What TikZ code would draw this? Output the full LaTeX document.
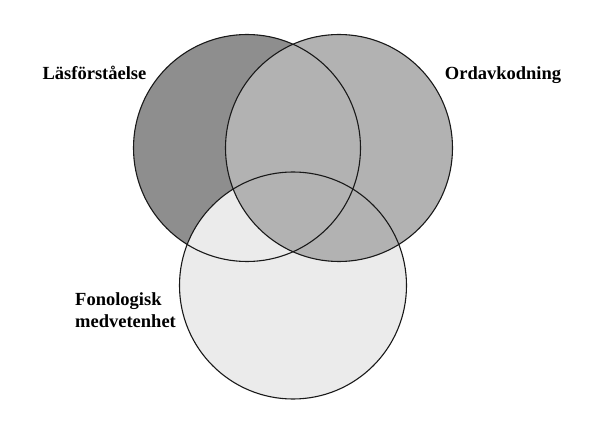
\documentclass[tikz,border=0pt]{standalone}
\usepackage{fontspec}
\setmainfont{Liberation Serif}
\definecolor{readdark}{HTML}{8E8E8E}
\definecolor{decodemid}{HTML}{B2B2B2}
\definecolor{phonolight}{HTML}{EBEBEB}
\tikzset{
  venn/.style={line width=1.1pt,draw=black!90},
  vennlabel/.style={font=\fontsize{18.5}{22}\selectfont\bfseries,inner sep=0pt}
}
\begin{document}
\begin{tikzpicture}[x=1pt,y=-1pt]
  \useasboundingbox (0,0) rectangle (606,441);

  \coordinate (las) at (247,148);
  \coordinate (ord) at (339,148);
  \coordinate (fon) at (293,285.5);

  % fills: back to front
  \fill[readdark]   (las) circle [radius=113.5pt];
  \fill[phonolight] (fon) circle [radius=113.5pt];
  \fill[decodemid]  (ord) circle [radius=113.5pt];

  \draw[venn] (las) circle [radius=113.5pt];
  \draw[venn] (ord) circle [radius=113.5pt];
  \draw[venn] (fon) circle [radius=113.5pt];

  \node[vennlabel,anchor=base] (laslabel) at (94.5,80) {Läsförståelse};
  \node[vennlabel,anchor=base] (ordlabel) at (503,80) {Ordavkodning};
  \node[vennlabel,anchor=base west,align=left] (fonlabel) at (75,327) {Fonologisk\\medvetenhet};

\end{tikzpicture}
\end{document}
